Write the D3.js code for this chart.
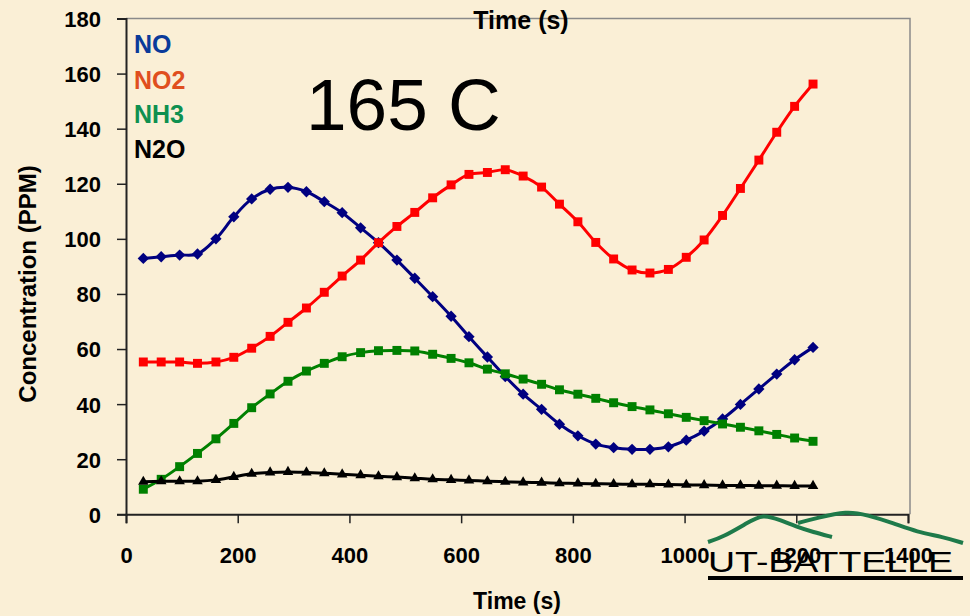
<!DOCTYPE html>
<html>
<head>
<meta charset="utf-8">
<script src="https://cdn.jsdelivr.net/npm/d3@7"></script>
<style>
  body { margin: 0; background: #faefd6; }
  svg { display: block; font-family: Arial, "Liberation Sans", sans-serif; }
</style>
</head>
<body>
<script>
// time stamps (s) of the samples
const times = [31, 63, 96, 128, 161, 193, 225, 258, 290, 323, 355, 387, 420, 452, 485, 517, 549, 582, 614,
               647, 679, 711, 744, 776, 809, 841, 873, 906, 938, 971, 1003, 1035, 1068, 1100, 1133, 1165, 1197, 1230];

// concentrations (PPM)
const no  = [92.9, 93.5, 94.1, 94.5, 100.0, 108.0, 114.5, 118.0, 118.7, 117.1, 113.5, 109.5, 104.0, 98.6, 92.3,
             85.7, 79.0, 71.9, 64.5, 57.1, 50.0, 43.6, 38.1, 32.7, 28.5, 25.5, 24.2, 23.6, 23.6, 24.5, 26.9,
             30.2, 34.6, 39.9, 45.5, 50.9, 56.1, 60.6];
const no2 = [55.3, 55.3, 55.3, 54.8, 55.3, 57.0, 60.3, 64.6, 69.7, 74.9, 80.6, 86.5, 92.3, 98.6, 104.5,
             109.6, 114.9, 119.6, 123.4, 124.1, 125.1, 122.8, 118.8, 112.6, 106.2, 98.7, 92.7, 88.7, 87.6,
             88.9, 93.3, 99.6, 108.5, 118.3, 128.6, 138.7, 148.1, 156.2];
const nh3 = [9.1, 12.7, 17.3, 22.1, 27.4, 33.0, 38.7, 43.7, 48.3, 52.0, 54.8, 57.2, 58.7, 59.4, 59.5, 59.3,
             58.1, 56.6, 55.0, 52.7, 51.0, 49.1, 47.2, 45.2, 43.6, 42.1, 40.5, 39.1, 37.9, 36.5, 35.2, 34.0,
             32.8, 31.6, 30.3, 29.0, 27.7, 26.5];
const n2o = [11.8, 12.0, 12.0, 12.0, 12.5, 13.6, 14.7, 15.2, 15.4, 15.2, 14.9, 14.5, 14.2, 13.8, 13.5, 13.1,
             12.7, 12.5, 12.3, 12.0, 11.8, 11.6, 11.5, 11.3, 11.2, 11.1, 11.0, 10.9, 10.9, 10.8, 10.7, 10.6,
             10.5, 10.5, 10.4, 10.4, 10.3, 10.3];

const xTicks = [0, 200, 400, 600, 800, 1000, 1200, 1400];
const yTicks = [0, 20, 40, 60, 80, 100, 120, 140, 160, 180];

const series = [
  {name: "NO",  values: no,  line: "#000080", label: "#0a3a9a", shape: "diamond"},
  {name: "NO2", values: no2, line: "#ff0000", label: "#e04e1e", shape: "square"},
  {name: "NH3", values: nh3, line: "#008000", label: "#0e9050", shape: "square"},
  {name: "N2O", values: n2o, line: "#000000", label: "#000000", shape: "triangle"}
];

const w = 970, h = 616;
const pLeft = 126, pRight = 908, pTop = 18.5, pBottom = 514.3;

const svg = d3.select("body").append("svg")
  .attr("width", w)
  .attr("height", h);

svg.append("rect").attr("width", w).attr("height", h).attr("fill", "#faefd6");

const x = d3.scaleLinear().domain([0, 1400]).range([pLeft, pRight]);
const y = d3.scaleLinear().domain([0, 180]).range([pBottom, pTop]);

// plot frame (top + right)
svg.append("path")
  .attr("d", `M${pLeft},${pTop}H${x(1400) + 2}V${pBottom}`)
  .attr("fill", "none")
  .attr("stroke", "#8a8a8a")
  .attr("stroke-width", 1.5);

// axes
const xAxis = svg.append("g")
  .attr("transform", `translate(0,${pBottom})`)
  .call(d3.axisBottom(x).tickValues(xTicks).tickFormat(d3.format("d")).tickSize(9).tickPadding(24));
const yAxis = svg.append("g")
  .attr("transform", `translate(${pLeft},0)`)
  .call(d3.axisLeft(y).tickValues(yTicks).tickFormat(d3.format("d")).tickSize(9).tickPadding(16));

[xAxis, yAxis].forEach(a => {
  a.select(".domain").attr("stroke", "#222").attr("stroke-width", 2);
  a.selectAll(".tick line").attr("stroke", "#222").attr("stroke-width", 1.5);
  a.selectAll(".tick text")
    .attr("fill", "#000")
    .style("font-size", "22px")
    .style("font-weight", "bold")
    .style("font-family", "Arial, 'Liberation Sans', sans-serif");
});
yAxis.selectAll(".tick text").attr("dy", "0.36em");

// axis titles
svg.append("text")
  .attr("x", 517).attr("y", 609)
  .attr("text-anchor", "middle")
  .style("font-size", "23px").style("font-weight", "bold")
  .text("Time (s)");

svg.append("text")
  .attr("x", 521).attr("y", 29)
  .attr("text-anchor", "middle")
  .style("font-size", "25px").style("font-weight", "bold")
  .text("Time (s)");

svg.append("text")
  .attr("transform", "translate(36,284) rotate(-90)")
  .attr("text-anchor", "middle")
  .style("font-size", "24px").style("font-weight", "bold")
  .text("Concentration (PPM)");

// lines and markers
const symbols = {
  diamond: d3.symbol().type(d3.symbolSquare).size(64),
  square: d3.symbol().type(d3.symbolSquare).size(80),
  triangle: d3.symbol().type(d3.symbolTriangle).size(48)
};

series.forEach(s => {
  const pts = times.map((t, i) => [t, s.values[i]]);
  svg.append("path")
    .datum(pts)
    .attr("fill", "none")
    .attr("stroke", s.line)
    .attr("stroke-width", 3)
    .attr("d", d3.line().x(d => x(d[0])).y(d => y(d[1])).curve(d3.curveCatmullRom));

  svg.append("g").selectAll("path")
    .data(pts)
    .join("path")
    .attr("d", symbols[s.shape])
    .attr("fill", s.line)
    .attr("transform", d => `translate(${x(d[0])},${y(d[1])})` + (s.shape === "diamond" ? " rotate(45)" : ""));
});

// legend
const legendY = [53, 89, 123, 158];
svg.append("g").selectAll("text")
  .data(series)
  .join("text")
  .attr("x", 134)
  .attr("y", (d, i) => legendY[i])
  .attr("fill", d => d.label)
  .style("font-size", "25px").style("font-weight", "bold")
  .text(d => d.name);

// temperature label
svg.append("text")
  .attr("x", 306).attr("y", 130)
  .style("font-size", "73px")
  .text("165 C");

// UT-Battelle logo (decoration)
const hills = [
  [[708, 542], [723, 537], [747, 523], [763, 514], [780, 520], [797, 527], [813, 532], [832, 537]],
  [[798, 523], [817, 518], [847, 511], [867, 515], [893, 523], [917, 532], [943, 537], [963, 543]]
];
svg.append("g").selectAll("path")
  .data(hills)
  .join("path")
  .attr("d", d3.line().curve(d3.curveBasis))
  .attr("fill", "none")
  .attr("stroke", "#1e7a4a")
  .attr("stroke-width", 4);

svg.append("text")
  .attr("x", 708).attr("y", 572)
  .attr("textLength", 245)
  .attr("lengthAdjust", "spacingAndGlyphs")
  .style("font-size", "30px")
  .text("UT-BATTELLE");

svg.append("rect")
  .attr("x", 708).attr("y", 576)
  .attr("width", 255).attr("height", 4)
  .attr("fill", "#000");
</script>
</body>
</html>
